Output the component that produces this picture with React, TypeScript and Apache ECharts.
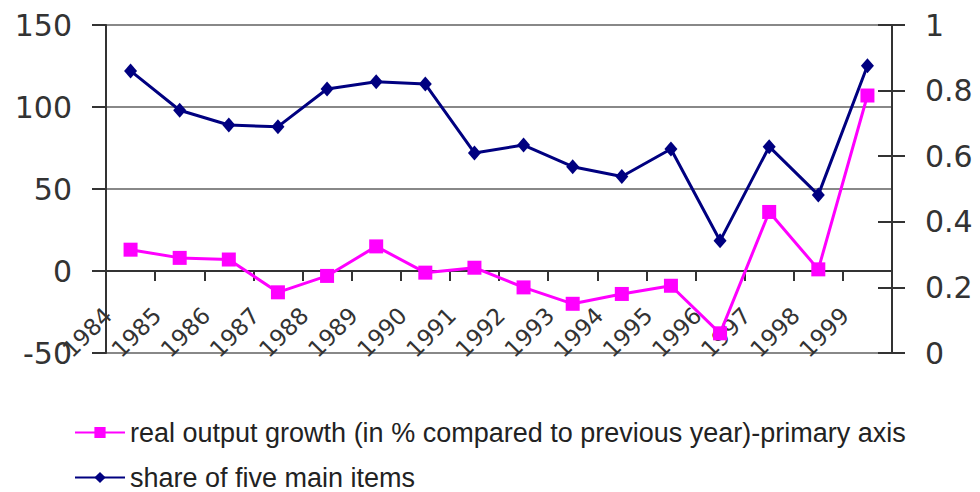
import React, { useEffect, useRef } from "react";
import * as echarts from "echarts";

// Years on the category axis
const years = [
  "1984", "1985", "1986", "1987", "1988", "1989", "1990", "1991",
  "1992", "1993", "1994", "1995", "1996", "1997", "1998", "1999",
];

// Real output growth, % vs. previous year (primary axis)
const realOutputGrowth = [13, 8, 7, -13, -3, 15, -1, 2, -10, -20, -14, -9, -38, 36, 1, 107];

// Share of the five main items (secondary axis)
const shareOfFiveMainItems = [
  0.86, 0.74, 0.695, 0.69, 0.805, 0.827, 0.82, 0.61,
  0.634, 0.568, 0.538, 0.622, 0.342, 0.629, 0.482, 0.876,
];

const GROWTH_NAME = "real output growth (in % compared to previous year)-primary axis";
const SHARE_NAME = "share of five main items";

const AXIS_FONT = "DejaVu Sans, Verdana, sans-serif";
const LEGEND_FONT = "Liberation Sans, Arial, sans-serif";

const legendBase = {
  orient: "vertical",
  left: 69,
  itemWidth: 50,
  itemHeight: 14,
  textStyle: { fontFamily: LEGEND_FONT, fontSize: 27, color: "#222" },
};

const tickStyle = { color: "#333", width: 2 };

export default function App() {
  const ref = useRef<HTMLDivElement>(null);

  useEffect(() => {
    document.body.style.margin = "0";
    if (!ref.current) return;
    const chart = echarts.init(ref.current, undefined, { renderer: "svg" });

    chart.setOption({
      animation: false,
      backgroundColor: "#ffffff",
      grid: { left: 106, right: 88, top: 25, bottom: 139, containLabel: false },
      legend: [
        { ...legendBase, top: 414, data: [GROWTH_NAME] },
        { ...legendBase, top: 459, data: [SHARE_NAME] },
      ],
      xAxis: {
        type: "category",
        data: years,
        boundaryGap: true,
        axisLine: { onZero: true, lineStyle: { color: "#333", width: 2 } },
        axisTick: { show: true, length: 10, lineStyle: tickStyle },
        axisLabel: {
          interval: 0,
          rotate: 45,
          margin: -64,
          padding: [0, 32, 0, 0],
          fontFamily: AXIS_FONT,
          fontSize: 23,
          color: "#333",
        },
        splitLine: { show: false },
      },
      yAxis: [
        {
          type: "value",
          position: "left",
          min: -50,
          max: 150,
          interval: 50,
          axisLine: { show: true, lineStyle: { color: "#333", width: 2 } },
          axisTick: { show: true, length: 14, lineStyle: tickStyle },
          axisLabel: { margin: 34, fontFamily: AXIS_FONT, fontSize: 30, color: "#333" },
          splitLine: { show: true, lineStyle: { color: "#888", width: 2 } },
        },
        {
          type: "value",
          position: "right",
          min: 0,
          max: 1,
          interval: 0.2,
          axisLine: { show: true, lineStyle: { color: "#333", width: 2 } },
          axisTick: { show: true, length: 13, lineStyle: tickStyle },
          axisLabel: {
            margin: 8,
            formatter: "{v|{value}}",
            rich: {
              v: {
                padding: [0, 0, 0, 25],
                fontFamily: AXIS_FONT,
                fontSize: 30,
                color: "#333",
              },
            },
          },
          splitLine: { show: false },
        },
        {
          // inner half of the crossing ticks on the secondary axis
          type: "value",
          position: "right",
          min: 0,
          max: 1,
          interval: 0.2,
          axisLine: { show: false },
          axisTick: { show: true, inside: true, length: 14, lineStyle: tickStyle },
          axisLabel: { show: false },
          splitLine: { show: false },
        },
      ],
      series: [
        {
          name: GROWTH_NAME,
          type: "line",
          yAxisIndex: 0,
          data: realOutputGrowth,
          symbol: "rect",
          symbolSize: 14,
          lineStyle: { color: "#ff00ff", width: 3 },
          itemStyle: { color: "#ff00ff" },
        },
        {
          name: SHARE_NAME,
          type: "line",
          yAxisIndex: 1,
          data: shareOfFiveMainItems,
          symbol: "diamond",
          symbolSize: [13, 15],
          lineStyle: { color: "#000080", width: 3 },
          itemStyle: { color: "#000080" },
        },
      ],
    });

    return () => chart.dispose();
  }, []);

  return <div ref={ref} style={{ width: 980, height: 492 }} />;
}
